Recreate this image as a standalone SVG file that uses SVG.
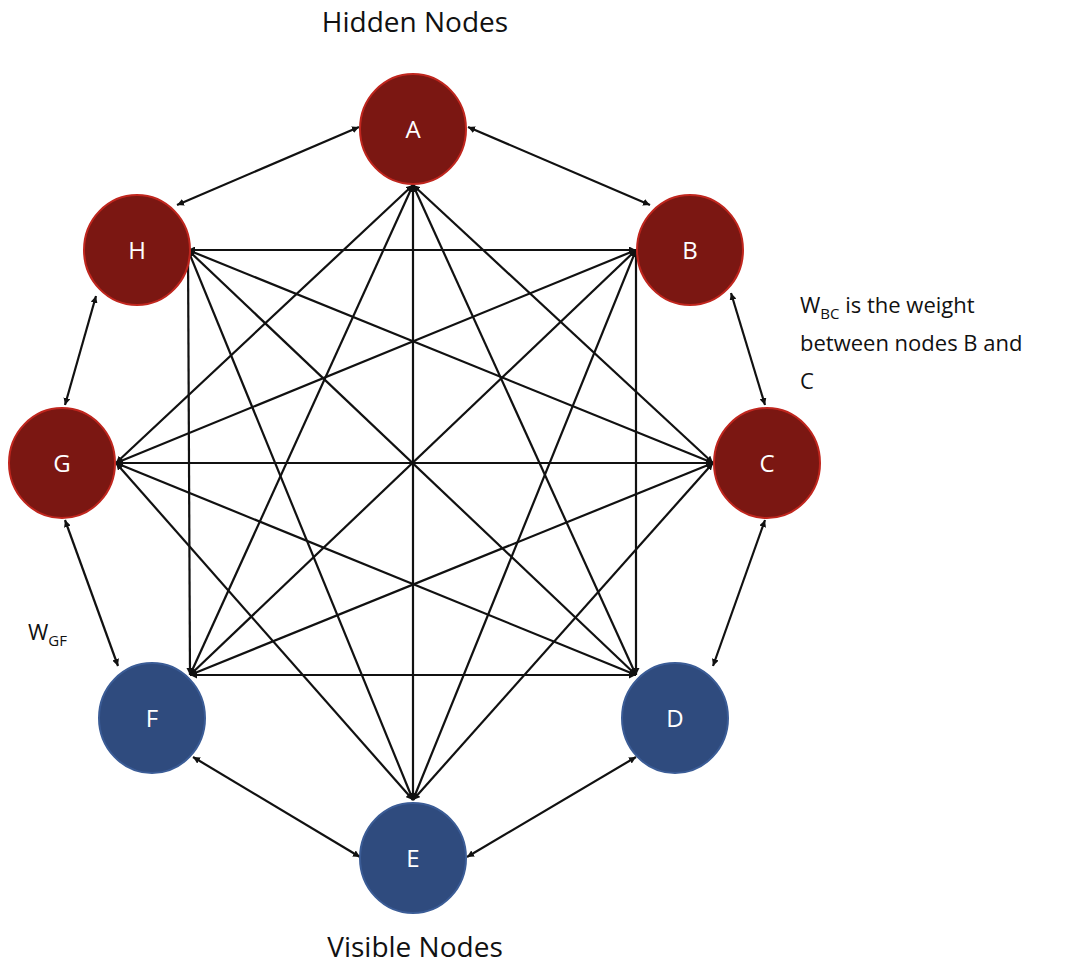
<svg xmlns="http://www.w3.org/2000/svg" width="1067" height="971" viewBox="0 0 1067 971">
<style>
text{font-family:"Open Sans","Liberation Sans",sans-serif;}
.h{fill:#7B1712;stroke:#C0261E;stroke-width:2}
.v{fill:#2F4B7E;stroke:#3B5C96;stroke-width:2}
.l{fill:#fff;font-size:24px;text-anchor:middle}
.t{fill:#111;font-size:22px}
#edges line{stroke:#111;stroke-width:2.2;marker-end:url(#ar);marker-start:url(#ar)}
</style>
<defs><marker id="ar" viewBox="0 0 10 10" refX="10" refY="5" markerWidth="7" markerHeight="7" orient="auto-start-reverse" markerUnits="userSpaceOnUse"><path d="M0,0L10,5L0,10z" fill="#111"/></marker></defs>
<rect width="1067" height="971" fill="#fff"/>
<text x="415" y="32" style="font-size:28px;text-anchor:middle;fill:#111">Hidden Nodes</text>
<text x="415" y="957" style="font-size:28px;text-anchor:middle;fill:#111">Visible Nodes</text>
<text class="t" x="800" y="313">W<tspan font-size="15" dy="6">BC</tspan><tspan dy="-6"> is the weight</tspan></text>
<text class="t" x="800" y="351">between nodes B and</text>
<text class="t" x="800" y="389">C</text>
<text class="t" x="28" y="640">W<tspan font-size="15" dy="6">GF</tspan></text>
<g id="edges">
<line x1="359" y1="127" x2="177" y2="205"/>
<line x1="468" y1="127" x2="650" y2="205"/>
<line x1="96" y1="296" x2="65" y2="405"/>
<line x1="731" y1="293" x2="765" y2="405"/>
<line x1="65" y1="520" x2="118" y2="666"/>
<line x1="765" y1="520" x2="713" y2="666"/>
<line x1="193" y1="757" x2="360" y2="857"/>
<line x1="636" y1="757" x2="467" y2="857"/>
<line x1="413" y1="185" x2="713" y2="463"/>
<line x1="413" y1="185" x2="636" y2="675"/>
<line x1="413" y1="185" x2="413" y2="800"/>
<line x1="413" y1="185" x2="190" y2="675"/>
<line x1="413" y1="185" x2="116" y2="463"/>
<line x1="188" y1="250" x2="636" y2="250"/>
<line x1="188" y1="250" x2="713" y2="463"/>
<line x1="188" y1="250" x2="636" y2="675"/>
<line x1="188" y1="250" x2="413" y2="800"/>
<line x1="188" y1="250" x2="190" y2="675"/>
<line x1="636" y1="250" x2="636" y2="675"/>
<line x1="636" y1="250" x2="413" y2="800"/>
<line x1="636" y1="250" x2="190" y2="675"/>
<line x1="636" y1="250" x2="116" y2="463"/>
<line x1="116" y1="463" x2="713" y2="463"/>
<line x1="116" y1="463" x2="636" y2="675"/>
<line x1="116" y1="463" x2="413" y2="800"/>
<line x1="713" y1="463" x2="413" y2="800"/>
<line x1="713" y1="463" x2="190" y2="675"/>
<line x1="190" y1="675" x2="636" y2="675"/>
</g>
<g id="A"><ellipse class="h" cx="413" cy="129" rx="53" ry="55"/><text class="l" x="413" y="138">A</text></g>
<g id="B"><ellipse class="h" cx="690" cy="250" rx="53" ry="55"/><text class="l" x="690" y="259">B</text></g>
<g id="C"><ellipse class="h" cx="767" cy="463" rx="53" ry="55"/><text class="l" x="767" y="472">C</text></g>
<g id="D"><ellipse class="v" cx="675" cy="718" rx="53" ry="55"/><text class="l" x="675" y="727">D</text></g>
<g id="E"><ellipse class="v" cx="413" cy="858" rx="53" ry="55"/><text class="l" x="413" y="867">E</text></g>
<g id="F"><ellipse class="v" cx="152" cy="718" rx="53" ry="55"/><text class="l" x="152" y="727">F</text></g>
<g id="G"><ellipse class="h" cx="62" cy="463" rx="53" ry="55"/><text class="l" x="62" y="472">G</text></g>
<g id="H"><ellipse class="h" cx="137" cy="250" rx="53" ry="55"/><text class="l" x="137" y="259">H</text></g>
</svg>
